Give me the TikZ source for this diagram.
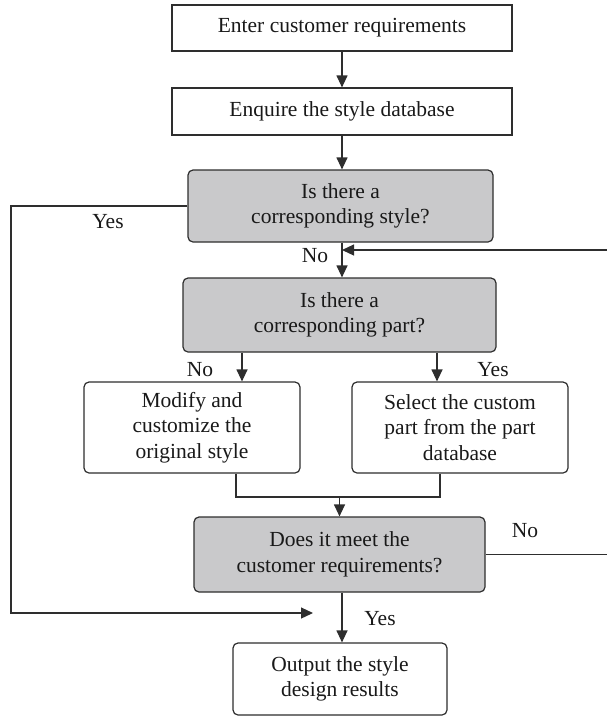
\documentclass[tikz,border=0pt]{standalone}
\usepackage{fontspec}
\setmainfont{Liberation Serif}
\usetikzlibrary{arrows.meta}

\definecolor{linec}{HTML}{2E2E2E}
\definecolor{decfill}{HTML}{C9C9CB}

\tikzset{
  base/.style={draw=linec, line width=1.2pt, align=center, inner sep=0pt,
    font=\fontsize{21.5}{25.5}\selectfont, text=black!90},
  plainbox/.style={base, minimum width=#1, minimum height=46pt},
  procbox/.style={base, rounded corners=5pt, fill=white},
  decbox/.style={base, rounded corners=5pt, fill=decfill},
  link/.style={draw=linec, line width=1.2pt},
  arr/.style={link, -{Triangle[length=12pt,width=11pt]}},
  lbl/.style={font=\fontsize{21.5}{25.5}\selectfont, text=black!90, inner sep=0pt}
}

\begin{document}
\begin{tikzpicture}[x=1pt,y=-1pt]
\useasboundingbox (0,0) rectangle (607,716);

% boxes
\node[plainbox=340pt] (enter) at (342,28) {Enter customer requirements};
\node[plainbox=340pt, minimum height=47pt] (enquire) at (342,111.5) {Enquire the style database};
\node[decbox, minimum width=305pt, minimum height=72pt] (style) at (340.5,206)
  {Is there a\\corresponding style?};
\node[decbox, minimum width=313pt, minimum height=74pt] (part) at (339.5,315)
  {Is there a\\corresponding part?};
\node[procbox, minimum width=216pt, minimum height=91pt] (modify) at (192,427.5)
  {Modify and\\customize the\\original style};
\node[procbox, minimum width=216pt, minimum height=91pt] (select) at (460,427.5)
  {Select the custom\\part from the part\\database};
\node[decbox, minimum width=291pt, minimum height=75pt] (meet) at (339.5,554.5)
  {Does it meet the\\customer requirements?};
\node[procbox, minimum width=214pt, minimum height=72pt] (output) at (340,679)
  {Output the style\\design results};

% helper points
\coordinate (spine) at (342,0);
\coordinate (noL) at (242,0);
\coordinate (yesR) at (437,0);
\coordinate (mergeL) at (236,497);
\coordinate (mergeR) at (440,497);
\coordinate (mergeM) at (339.5,497);
\coordinate (leftrail) at (11,0);
\coordinate (yesEnd) at (313,613);
\coordinate (rightrail) at (609,0);
\coordinate (backIn) at (342,250);

% main flow
\draw[arr] (enter) -- (enquire);
\draw[arr] (enquire.south -| spine) -- (style.north -| spine);
\draw[arr] (style.south -| spine) -- (part.north -| spine);
\draw[arr] (noL |- part.south) -- (noL |- modify.north);
\draw[arr] (yesR |- part.south) -- (yesR |- select.north);
\draw[link] (modify.south -| mergeL) -- (mergeL) -- (mergeR) -- (select.south -| mergeR);
\draw[arr] (mergeM) -- (meet.north);
\draw[arr] (meet.south -| spine) -- (output.north -| spine);

% loops
\draw[arr] (style.west) -- (style.west -| leftrail) -- (leftrail |- yesEnd) -- (yesEnd);
\draw[arr] (meet.east) -- (meet.east -| rightrail) -- (rightrail |- backIn) -- (backIn);

% labels
\node[lbl] (lyes1) at (108,222) {Yes};
\node[lbl] (lno1) at (315,256) {No};
\node[lbl] (lno2) at (200,370) {No};
\node[lbl] (lyes2) at (493,370) {Yes};
\node[lbl] (lno3) at (525,531) {No};
\node[lbl] (lyes3) at (380,619) {Yes};
\end{tikzpicture}
\end{document}
